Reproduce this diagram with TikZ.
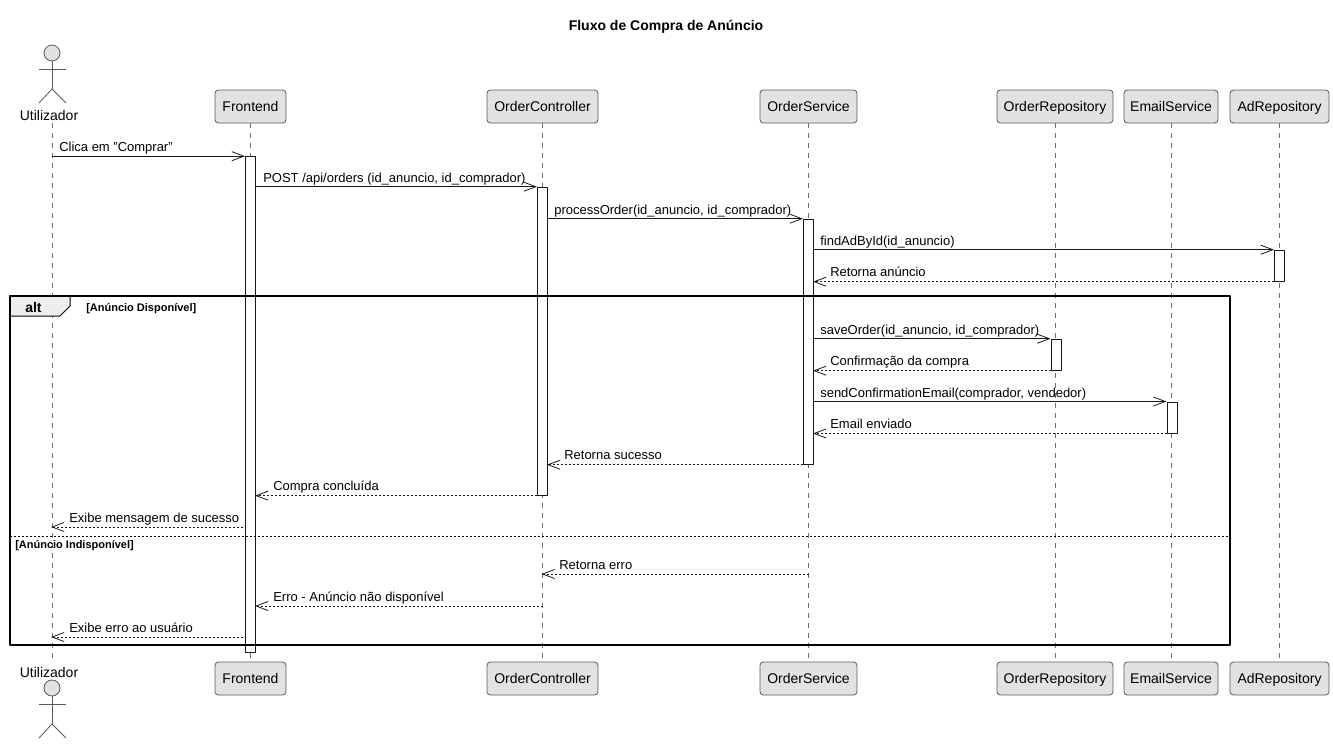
\documentclass[tikz,border=0pt]{standalone}
\usepackage{fontspec}
\setmainfont{Liberation Sans}
\usetikzlibrary{calc,arrows.meta}

\definecolor{boxfill}{HTML}{E2E2E2}
\definecolor{boxline}{HTML}{5A5A5A}
\definecolor{tabfill}{HTML}{EEEEEE}
\definecolor{lifeline}{HTML}{6E6E6E}
\definecolor{msgline}{HTML}{181818}

\tikzset{
    headbox/.style={draw=boxline, fill=boxfill, rounded corners=2.5pt, inner sep=0pt, minimum height=24.75pt, line width=0.6pt, text height=10pt, text depth=1.8pt, font=\fontsize{10.5}{12}\selectfont},
    actorlabel/.style={inner sep=0pt, text height=9.5pt, text depth=2pt, font=\fontsize{10.5}{12}\selectfont},
    actorline/.style={draw=boxline, line width=0.6pt},
    lifedash/.style={lifeline, line width=0.75pt, dash pattern=on 3.75pt off 3.75pt},
    activebar/.style={draw=msgline, fill=white, line width=0.75pt, inner sep=0pt, minimum width=7.5pt},
    msg/.style={msgline, line width=0.75pt, -{Straight Barb[length=9pt,width=6.75pt,line width=0.6pt]}},
    reply/.style={msg, shorten >=-0.75pt, dash pattern=on 1.5pt off 1.5pt},
    msglabel/.style={anchor=base west, inner sep=0pt, font=\fontsize{9.75}{12}\selectfont},
    guardlabel/.style={anchor=base west, inner sep=0pt, font=\fontsize{8.25}{10}\selectfont\bfseries}
}

\begin{document}
\begin{tikzpicture}[x=0.75pt, y=-0.75pt, line join=round]
    \useasboundingbox (0,0) rectangle (1333,744);

    % Titulo
    \node[font=\fontsize{10.5}{12}\selectfont\bfseries] (titulo) at (666,26.5) {Fluxo de Compra de Anúncio};

    % Participantes e linhas de vida
    \foreach \name/\xpos/\bw/\txt in {front/250.5/71/Frontend, ctrl/542.5/111/OrderController, svc/808.5/97/OrderService, repo/1055/116/OrderRepository, mail/1171/94/EmailService, ad/1279.5/99/AdRepository} {
        \node[headbox, minimum width=\bw*0.75pt] (\name Top) at (\xpos,106.5) {\txt};
        \node[headbox, minimum width=\bw*0.75pt] (\name Bot) at (\xpos,678.5) {\txt};
        \draw[lifedash] (\name Top) -- (\name Bot);
    }

    % Ator (em cima e em baixo)
    \node[actorlabel] (userTop) at (49,115) {Utilizador};
    \node[actorlabel] (userBot) at (49,672) {Utilizador};
    \coordinate (userLineTop) at (52,123);
    \coordinate (userLineBot) at (52,661);
    \draw[lifedash] (userLineTop) -- (userLineBot);
    \foreach \yhead in {53,688} {
        \draw[actorline, fill=boxfill] (52,\yhead) circle (8);
        \draw[actorline] (52,\yhead+8) -- (52,\yhead+36) (39,\yhead+16) -- (66,\yhead+16);
        \draw[actorline] (39,\yhead+50) -- (52,\yhead+36) -- (66,\yhead+50);
    }

    % Barras de ativacao
    \node[activebar, minimum height=371.6pt] (barFront) at (250.5,404.4) {};
    \node[activebar, minimum height=231pt] (barCtrl) at (542.5,341.2) {};
    \node[activebar, minimum height=183.75pt] (barSvc) at (808.5,341.7) {};
    \node[activebar, minimum height=23.25pt] (barAd) at (1279.5,265.7) {};
    \node[activebar, minimum height=23.25pt] (barRepo) at (1056,354.7) {};
    \node[activebar, minimum height=23.25pt] (barMail) at (1172,417.5) {};

    % Mensagens
    \draw[msg] (userLineTop |- barFront.north) -- (barFront.north west);
    \draw[msg] (barFront.east |- barCtrl.north) -- (barCtrl.north west);
    \draw[msg] (barCtrl.east |- barSvc.north) -- (barSvc.north west);
    \draw[msg] (barSvc.east |- barAd.north) -- (barAd.north west);
    \draw[reply] (barAd.south west) -- (barSvc.east |- barAd.south);
    \draw[msg] (barSvc.east |- barRepo.north) -- (barRepo.north west);
    \draw[reply] (barRepo.south west) -- (barSvc.east |- barRepo.south);
    \draw[msg] (barSvc.east |- barMail.north) -- (barMail.north west);
    \draw[reply] (barMail.south west) -- (barSvc.east |- barMail.south);
    \draw[reply] (barSvc.south west) -- (barCtrl.east |- barSvc.south);
    \draw[reply] (barCtrl.south west) -- (barFront.east |- barCtrl.south);
    \draw[reply] (243,527) -- (userLineTop |- 0,527);
    \draw[reply] (svcTop.center |- 0,574) -- (ctrlTop.center |- 0,574);
    \draw[reply] (ctrlTop.center |- 0,606) -- (barFront.east |- 0,606);
    \draw[reply] (243,637) -- (userLineTop |- 0,637);

    % Textos das mensagens
    \node[msglabel] (lblClica) at (59,151) {Clica em \symbol{34}Comprar\symbol{34}};
    \node[msglabel] (lblPost) at (263,182) {POST /api/orders (id\_anuncio, id\_comprador)};
    \node[msglabel] (lblProcess) at (554,214) {processOrder(id\_anuncio, id\_comprador)};
    \node[msglabel] (lblFind) at (820,245) {findAdById(id\_anuncio)};
    \node[msglabel] (lblAnuncio) at (830,276) {Retorna anúncio};
    \node[msglabel] (lblSave) at (820,334) {saveOrder(id\_anuncio, id\_comprador)};
    \node[msglabel] (lblConfirma) at (830,365) {Confirmação da compra};
    \node[msglabel] (lblSend) at (820,397) {sendConfirmationEmail(comprador, vendedor)};
    \node[msglabel] (lblEmail) at (830,428) {Email enviado};
    \node[msglabel] (lblSucesso) at (564,459) {Retorna sucesso};
    \node[msglabel] (lblCompra) at (273,490) {Compra concluída};
    \node[msglabel] (lblExibe) at (69,522) {Exibe mensagem de sucesso};
    \node[msglabel] (lblErro) at (559,569) {Retorna erro};
    \node[msglabel] (lblIndisp) at (273,601) {Erro - Anúncio não disponível};
    \node[msglabel] (lblExibeErro) at (69,632) {Exibe erro ao usuário};

    % Bloco alt
    \draw[black, line width=1.5pt] (10,296) rectangle (1230,645);
    \draw[black, line width=0.75pt, fill=tabfill] (10,296) -- (70,296) -- (70,306) -- (60,316) -- (10,316) -- cycle;
    \draw[black, line width=1.5pt] (10,316) -- (10,296) -- (70,296);
    \draw[black, line width=0.75pt, dash pattern=on 1.5pt off 1.5pt] (10,536) -- (1230,536);
    \node[msglabel, font=\fontsize{10.5}{12}\selectfont\bfseries] (lblAlt) at (25,312) {alt};
    \node[guardlabel] (lblDisp) at (86,311) {[Anúncio Disponível]};
    \node[guardlabel] (lblNaoDisp) at (15,548) {[Anúncio Indisponível]};
\end{tikzpicture}
\end{document}
